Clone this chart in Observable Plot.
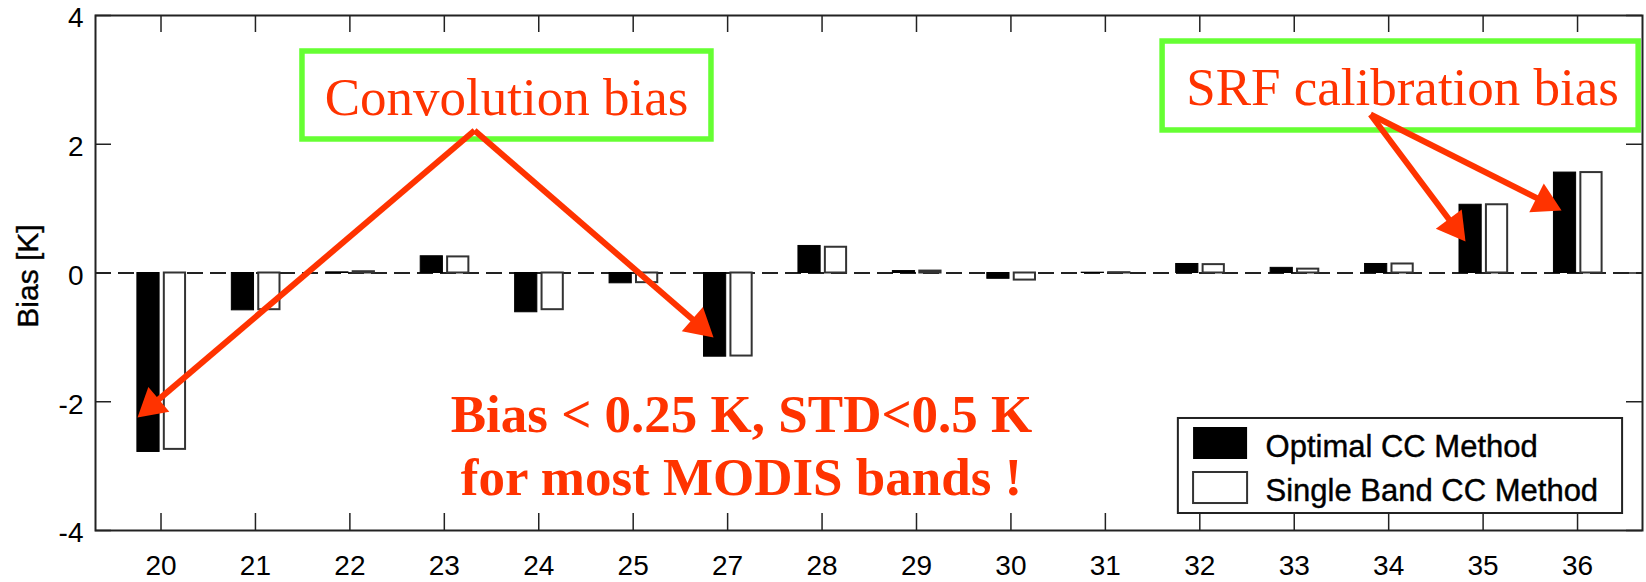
<!DOCTYPE html>
<html><head><meta charset="utf-8">
<script src="https://cdn.jsdelivr.net/npm/d3@7"></script>
<script src="https://cdn.jsdelivr.net/npm/@observablehq/plot@0.6"></script>
<style>html,body{margin:0;padding:0;background:#fff;} svg{display:block}</style>
</head><body><div id="chart"></div>
<script>
// ---- data ----
const bands = [20,21,22,23,24,25,27,28,29,30,31,32,33,34,35,36];
const optimalCC    = [-2.78,-0.58,0.01,0.26,-0.61,-0.16,-1.30,0.42,0.03,-0.09,0.005,0.14,0.08,0.14,1.06,1.56];
const singleBandCC = [-2.74,-0.57,0.02,0.25,-0.57,-0.15,-1.29,0.40,0.03,-0.11,0.005,0.13,0.06,0.14,1.06,1.56];
const yTicks = [-4,-2,0,2,4];
const seriesNames = ["Optimal CC Method","Single Band CC Method"];
const yLabel = "Bias [K]";
const boxLabels = ["Convolution bias","SRF calibration bias"];
const noteText = "Bias < 0.25 K, STD<0.5 K\nfor most MODIS bands !";

const rows = bands.map((b,i)=>({i, band:b, optimal:optimalCC[i], single:singleBandCC[i]}));
const idx = d3.range(bands.length);

// annotation anchors (data units: x = band index, y = bias)
const boxes = [
  {x1:1.498, x2:5.829, y1:3.441, y2:2.074, tx:3.659, ty:2.447, label:boxLabels[0]},
  {x1:10.606, x2:15.647, y1:3.596, y2:2.214, tx:13.147, ty:2.602, label:boxLabels[1]}
];
const arrows = [
  {x1:3.320, y1:2.214, x2:-0.249, y2:-2.245},
  {x1:3.320, y1:2.214, x2:5.851, y2:-1.002},
  {x1:12.808, y1:2.462, x2:13.814, y2:0.489},
  {x1:12.808, y1:2.462, x2:14.831, y2:0.971}
];
const legend = {x1:10.773, x2:15.477, y1:-2.260, y2:-3.736,
  sx1:10.934, sx2:11.506, s1y1:-2.400, s1y2:-2.897, s2y1:-3.099, s2y2:-3.581,
  tx:11.696, t1y:-2.866, t2y:-3.534};

const RED = "#ff3300", GREEN = "#66ff33", INK = "#222";
const SANS = "'Liberation Sans', Arial, sans-serif", SERIF = "'Liberation Serif', 'Times New Roman', serif";
const dims = {width:1646, height:582, marginLeft:95, marginRight:4, marginTop:15, marginBottom:52,
  x:{type:"linear", domain:[-0.6937, 15.6878]}, y:{domain:[-4,4]}};

// probe scales to orient arrowheads in screen space
const probe = Plot.plot({...dims, marks:[Plot.dot(arrows,{x:"x2", y:"y2"})]});
const sx = probe.scale("x"), sy = probe.scale("y");
const heads = arrows.map(a => {
  const px1 = sx.apply(a.x1), py1 = sy.apply(a.y1), px2 = sx.apply(a.x2), py2 = sy.apply(a.y2);
  const L = Math.hypot(px2-px1, py2-py1), ux = (px2-px1)/L, uy = (py2-py1)/L;
  const cx = px2 - ux*18.7, cy = py2 - uy*18.7;
  return {x1:a.x1, y1:a.y1, cx:sx.invert(cx), cy:sy.invert(cy), angle: Math.atan2(ux,-uy)*180/Math.PI};
});

const chart = Plot.plot({
  ...dims,
  style:{fontFamily:SANS, background:"#fff", color:"#000"},
  marks:[
    Plot.ruleY([0], {stroke:INK, strokeWidth:2, strokeDasharray:"16,7"}),
    Plot.rectY(rows, {x1:d=>d.i-0.25, x2:d=>d.i-0.015, y:"optimal", fill:"#000", stroke:"#000", strokeWidth:1}),
    Plot.rectY(rows, {x1:d=>d.i+0.035, x2:d=>d.i+0.26, y:"single", fill:"#fff", stroke:"#333", strokeWidth:2}),
    Plot.frame({stroke:INK, strokeWidth:2}),
    Plot.ruleX(idx, {x:d=>d, insetTop:498, stroke:INK, strokeWidth:1.5}),
    Plot.ruleX(idx, {x:d=>d, insetBottom:498, stroke:INK, strokeWidth:1.5}),
    Plot.ruleY(yTicks, {y:d=>d, insetRight:1531, stroke:INK, strokeWidth:1.5}),
    Plot.ruleY(yTicks, {y:d=>d, insetLeft:1531, stroke:INK, strokeWidth:1.5}),
    Plot.axisX(idx, {tickSize:0, tickPadding:25, tickFormat:i=>bands[i], fontSize:28, label:null, fill:"#000", stroke:"#000", strokeWidth:0.5}),
    Plot.axisY(yTicks, {tickSize:0, tickPadding:12, fontSize:28, label:null, dy:3, fill:"#000", stroke:"#000", strokeWidth:0.5, tickFormat:d=>String(d)}),
    Plot.text([yLabel], {frameAnchor:"left", textAnchor:"middle", lineAnchor:"middle", dx:-67, dy:3, rotate:-90, fontSize:30, text:d=>d, fill:"#000", stroke:"#000", strokeWidth:0.4}),
    // legend
    Plot.rect([legend], {x1:"x1", x2:"x2", y1:"y1", y2:"y2", fill:"#fff", stroke:INK, strokeWidth:2}),
    Plot.rect([legend], {x1:"sx1", x2:"sx2", y1:"s1y1", y2:"s1y2", fill:"#000"}),
    Plot.rect([legend], {x1:"sx1", x2:"sx2", y1:"s2y1", y2:"s2y2", fill:"#fff", stroke:"#333", strokeWidth:2}),
    Plot.text([legend], {x:"tx", y:"t1y", text:()=>seriesNames[0], textAnchor:"start", lineAnchor:"bottom", fontSize:31, fill:"#000", stroke:"#000", strokeWidth:0.4}),
    Plot.text([legend], {x:"tx", y:"t2y", text:()=>seriesNames[1], textAnchor:"start", lineAnchor:"bottom", fontSize:31, fill:"#000", stroke:"#000", strokeWidth:0.4}),
    // annotations
    Plot.rect(boxes, {x1:"x1", x2:"x2", y1:"y1", y2:"y2", fill:"none", stroke:GREEN, strokeWidth:5.5}),
    Plot.text(boxes, {x:"tx", y:"ty", text:"label", lineAnchor:"bottom", fontSize:53, fill:RED, fontFamily:SERIF}),
    Plot.text([noteText], {x:6.147, y:-3.456, text:d=>d, lineAnchor:"bottom", lineHeight:1.2, fontSize:53, fontWeight:"bold", fill:RED, fontFamily:SERIF}),
    Plot.link(heads, {x1:"x1", y1:"y1", x2:"cx", y2:"cy", stroke:RED, strokeWidth:6}),
    Plot.dot(heads, {x:"cx", y:"cy", symbol:"triangle", r:12, rotate:"angle", fill:RED, stroke:"none"})
  ]
});
document.getElementById("chart").appendChild(chart);
</script>
</body></html>
